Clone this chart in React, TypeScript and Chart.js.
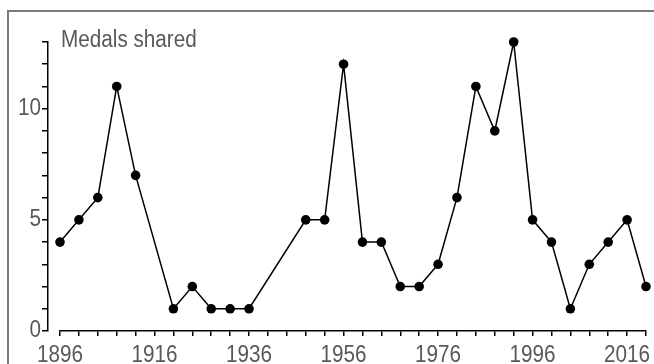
import React, { useEffect, useRef } from "react";
import { Chart, registerables } from "chart.js";

Chart.register(...registerables);

const years: number[] = [1896, 1900, 1904, 1908, 1912, 1920, 1924, 1928, 1932, 1936, 1948, 1952, 1956, 1960, 1964, 1968, 1972, 1976, 1980, 1984, 1988, 1992, 1996, 2000, 2004, 2008, 2012, 2016, 2020];
const medalsShared: number[] = [4, 5, 6, 11, 7, 1, 2, 1, 1, 1, 5, 5, 12, 4, 4, 2, 2, 3, 6, 11, 9, 13, 5, 4, 1, 3, 4, 5, 2];
const titleText = "Medals shared";
const xMin = 1896;
const xMax = 2020;
const xStep = 4;
const xLabelEvery = 20;
const yMin = 0;
const yMax = 13;
const yLabelEvery = 5;

const FONT = '"Liberation Sans", Arial, sans-serif';
const FONT_SIZE = 23;
const NARROW = 0.9;
const GREY = "#595959";

export default function App() {
  const ref = useRef<HTMLCanvasElement | null>(null);

  useEffect(() => {
    if (!ref.current) return;
    const narrowText = {
      id: "narrowText",
      beforeInit(chart: any) {
        const ctx = chart.ctx;
        const orig = ctx.fillText.bind(ctx);
        ctx.fillText = (text: string, x: number, y: number) => {
          ctx.save();
          ctx.translate(x, y);
          ctx.scale(NARROW, 1);
          orig(text, 0, 0);
          ctx.restore();
        };
      },
    };
    const titlePlugin = {
      id: "innerTitle",
      afterDraw(chart: any) {
        const ctx = chart.ctx;
        ctx.save();
        ctx.font = `${FONT_SIZE}px ${FONT}`;
        ctx.fillStyle = GREY;
        ctx.textBaseline = "alphabetic";
        ctx.textAlign = "left";
        ctx.fillText(titleText, 61, 47);
        ctx.restore();
      },
    };
    const chart = new Chart(ref.current, {
      type: "line",
      data: {
        datasets: [
          {
            label: titleText,
            data: years.map((y, i) => ({ x: y, y: medalsShared[i] })),
            borderColor: "#000",
            borderWidth: 1.5,
            backgroundColor: "#000",
            pointBackgroundColor: "#000",
            pointBorderWidth: 0,
            pointRadius: 4.8,
            tension: 0,
            clip: false as any,
            yAxisID: "y",
            xAxisID: "x",
          },
        ],
      },
      options: {
        responsive: false,
        animation: false,
        devicePixelRatio: 1,
        layout: { padding: { top: 42, right: 8, left: 0, bottom: 0 } },
        plugins: {
          legend: { display: false },
          tooltip: { enabled: false },
          title: { display: false },
        },
        scales: {
          x: {
            type: "linear",
            min: xMin,
            max: xMax,
            afterBuildTicks: (s: any) => {
              const t: { value: number }[] = [];
              for (let v = xMin; v <= xMax; v += xStep) t.push({ value: v });
              s.ticks = t;
            },
            afterFit: (s: any) => {
              s.height = 33;
            },
            ticks: {
              autoSkip: false,
              maxRotation: 0,
              minRotation: 0,
              padding: 6,
              color: GREY,
              font: { family: FONT, size: FONT_SIZE },
              callback: (v: any) => ((Number(v) - xMin) % xLabelEvery === 0 ? String(v) : ""),
            },
            grid: { display: true, drawOnChartArea: false, drawTicks: true, tickLength: 5, color: "#000", lineWidth: 1.5 },
            border: { display: true, color: "#000", width: 1.5 },
          },
          y: {
            type: "linear",
            position: "left",
            weight: 1,
            min: yMin,
            max: yMax,
            afterBuildTicks: (s: any) => {
              const t: { value: number }[] = [];
              for (let v = yMin; v <= yMax; v += 1) t.push({ value: v });
              s.ticks = t;
            },
            afterFit: (s: any) => {
              s.width = 48;
            },
            ticks: {
              autoSkip: false,
              padding: 1,
              color: GREY,
              font: { family: FONT, size: FONT_SIZE },
              callback: (v: any) => (Number(v) % yLabelEvery === 0 ? String(v) : ""),
            },
            grid: { display: true, drawOnChartArea: false, drawTicks: true, tickLength: 6, color: "#000", lineWidth: 1.5 },
            border: { display: true, color: "#000", width: 1.5 },
          },
          gap: {
            type: "linear",
            position: "left",
            weight: 0,
            display: true,
            min: yMin,
            max: yMax,
            afterFit: (s: any) => {
              s.width = 12;
            },
            ticks: { display: false },
            grid: { display: false },
            border: { display: false },
          },
        },
      } as any,
      plugins: [narrowText, titlePlugin],
    });
    return () => chart.destroy();
  }, []);

  return (
    <div style={{ position: "fixed", left: 0, top: 0, width: 654, height: 364, background: "#fff", overflow: "hidden" }}>
      <div
        style={{
          position: "absolute",
          left: 7,
          top: 10,
          width: 700,
          height: 400,
          borderLeft: "2px solid #7a7a7a",
          borderTop: "2px solid #7a7a7a",
        }}
      />
      <canvas ref={ref} width={654} height={364} style={{ position: "absolute", left: 0, top: 0, width: 654, height: 364 }} />
    </div>
  );
}
